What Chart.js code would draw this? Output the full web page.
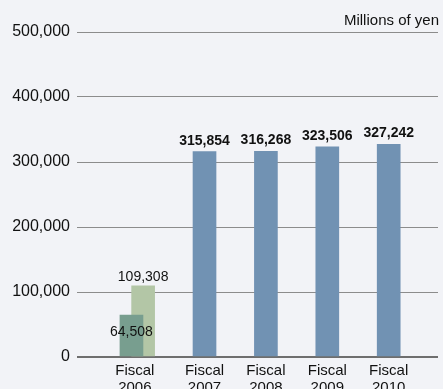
<!DOCTYPE html>
<html>
<head>
<meta charset="utf-8">
<script src="https://cdn.jsdelivr.net/npm/chart.js@4/dist/chart.umd.min.js"></script>
<style>
  html, body { margin: 0; padding: 0; background: #f2f3f7; }
  #wrap { width: 443px; height: 389px; position: relative; }
</style>
</head>
<body>
<div id="wrap"><canvas id="c"></canvas></div>
<script>
// Fiscal years on the horizontal axis
const years = ['2006', '2007', '2008', '2009', '2010'];
// Annual totals, millions of yen (fiscal 2006 is reported as two figures)
const annualValues = [null, 315854, 316268, 323506, 327242];
const fiscal2006Parts = [64508, 109308];
// Vertical axis ticks
const yTicks = [0, 100000, 200000, 300000, 400000, 500000];
const unitLabel = 'Millions of yen';

const FONT = '"Liberation Sans", Arial, sans-serif';
const BAR_W = 23;
// the darker 2006 bar sits half a bar to the left of the lighter one
const HALF_SHIFT = 0.19;

const fmt = v => v.toLocaleString('en-US');

const valueLabels = {
  id: 'valueLabels',
  afterDatasetsDraw(chart) {
    const ctx = chart.ctx;
    ctx.save();
    ctx.fillStyle = '#111';
    ctx.textAlign = 'center';
    ctx.textBaseline = 'alphabetic';
    chart.data.datasets.forEach((ds, di) => {
      const meta = chart.getDatasetMeta(di);
      meta.data.forEach((bar, i) => {
        const v = ds.data[i].y;
        if (v == null) return;
        if (ds.labelStyle === 'inside') {
          ctx.font = '14px ' + FONT;
          ctx.fillText(fmt(v), bar.x, bar.y + 21);
        } else if (ds.labelStyle === 'plain') {
          ctx.font = '14px ' + FONT;
          ctx.fillText(fmt(v), bar.x, bar.y - 5);
        } else {
          ctx.font = 'bold 14px ' + FONT;
          ctx.fillText(fmt(v), bar.x, bar.y - 7);
        }
      });
    });
    // unit caption
    ctx.font = '15px ' + FONT;
    ctx.textAlign = 'right';
    ctx.fillText(unitLabel, 439, 25);
    ctx.restore();
  }
};

new Chart(document.getElementById('c'), {
  type: 'bar',
  data: {
    datasets: [
      {
        data: [{ x: -HALF_SHIFT, y: fiscal2006Parts[0] }],
        backgroundColor: '#789e8f',
        labelStyle: 'inside'
      },
      {
        data: [{ x: 0, y: fiscal2006Parts[1] }],
        backgroundColor: '#b3c6a6',
        labelStyle: 'plain'
      },
      {
        data: annualValues.map((v, i) => ({ x: i, y: v })).filter(p => p.y != null),
        backgroundColor: '#7192b3',
        labelStyle: 'bold'
      }
    ]
  },
  options: {
    responsive: true,
    maintainAspectRatio: false,
    animation: false,
    layout: { padding: { top: 32, right: 5, bottom: 0, left: 0 } },
    datasets: { bar: { barThickness: BAR_W, grouped: false, borderWidth: 0 } },
    plugins: { legend: { display: false }, tooltip: { enabled: false } },
    scales: {
      x: {
        type: 'linear',
        offset: false,
        min: -1.077,
        max: 4.803,
        grid: { display: false },
        border: { display: false },
        afterBuildTicks(scale) {
          scale.ticks = years.map((y, i) => ({ value: i === 0 ? -HALF_SHIFT / 2 - 0.04 : i }));
        },
        afterFit(scale) { scale.height = 32; },
        ticks: {
          padding: -2,
          color: '#111',
          font: { family: FONT, size: 15, lineHeight: 1.1 },
          callback: (v, idx) => ['Fiscal', years[idx]]
        }
      },
      y: {
        min: 0,
        max: 500000,
        afterBuildTicks(scale) {
          scale.ticks = yTicks.map(v => ({ value: v }));
        },
        afterFit(scale) { scale.width = 77; },
        border: { display: false },
        grid: {
          drawTicks: false,
          color: ctx => ctx.tick && ctx.tick.value === 0 ? '#6e6e6e' : '#8c8c8c',
          lineWidth: ctx => ctx.tick && ctx.tick.value === 0 ? 2 : 1
        },
        ticks: {
          padding: 7,
          color: '#111',
          font: { family: FONT, size: 16 },
          callback: v => fmt(v)
        }
      }
    }
  },
  plugins: [valueLabels]
});
</script>
</body>
</html>
